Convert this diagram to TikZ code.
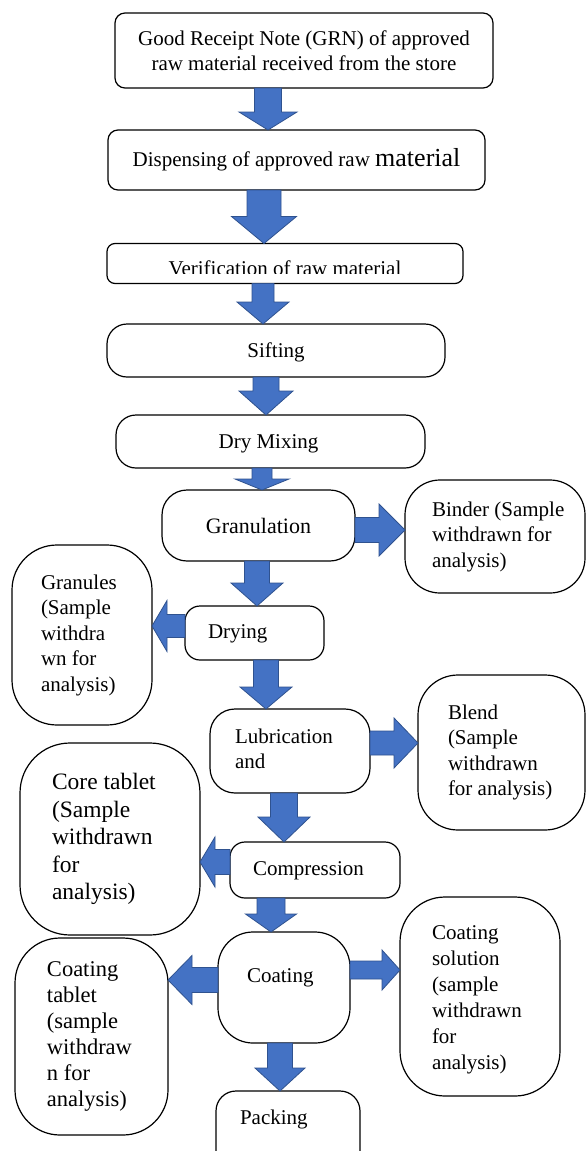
\documentclass[tikz,border=0pt]{standalone}
\usepackage{fontspec}
\setmainfont{Liberation Serif}
\usetikzlibrary{calc}
\definecolor{arrfill}{HTML}{4472C4}
\definecolor{arredge}{HTML}{2F528F}
\tikzset{
  pbox/.style={draw=black, line width=1.2pt, fill=white, rounded corners=#1,
    inner sep=0pt, outer sep=0pt, font=\fontsize{21}{25.5}\selectfont},
  blockarrow/.style={fill=arrfill, draw=arredge, line width=0.8pt, line join=miter},
  plaintext/.style={inner sep=0pt, outer sep=0pt, anchor=base, font=\fontsize{21}{25.5}\selectfont},
}
% left-aligned text block of a box: box width, left padding, lines
\newcommand\sidetext[3]{\makebox[#1pt][l]{\hspace*{#2pt}\begin{tabular}{@{}l@{}}#3\end{tabular}}}
\newcommand\sidetexttop[3]{\makebox[#1pt][l]{\hspace*{#2pt}\begin{tabular}[t]{@{}l@{}}#3\end{tabular}}}
\newcommand\arrdown[6]{%
  \path[blockarrow] let \p1=(#1.south), \p2=(#2.north) in
    (#3pt-#4pt,\y1) -- (#3pt+#4pt,\y1) -- (#3pt+#4pt,\y2+#6pt)
    -- (#3pt+#5pt,\y2+#6pt) -- (#3pt,\y2) -- (#3pt-#5pt,\y2+#6pt)
    -- (#3pt-#4pt,\y2+#6pt) -- cycle;}
\newcommand\arrright[6]{%
  \path[blockarrow] let \p1=(#1.east), \p2=(#2.west) in
    (\x1,-#3pt+#4pt) -- (\x2-#6pt,-#3pt+#4pt) -- (\x2-#6pt,-#3pt+#5pt)
    -- (\x2,-#3pt) -- (\x2-#6pt,-#3pt-#5pt) -- (\x2-#6pt,-#3pt-#4pt)
    -- (\x1,-#3pt-#4pt) -- cycle;}
\newcommand\arrleft[6]{%
  \path[blockarrow] let \p1=(#1.west), \p2=(#2.east) in
    (\x1,-#3pt+#4pt) -- (\x2+#6pt,-#3pt+#4pt) -- (\x2+#6pt,-#3pt+#5pt)
    -- (\x2,-#3pt) -- (\x2+#6pt,-#3pt-#5pt) -- (\x2+#6pt,-#3pt-#4pt)
    -- (\x1,-#3pt-#4pt) -- cycle;}
\begin{document}
\begin{tikzpicture}[x=1pt,y=-1pt]
\useasboundingbox (0,0) rectangle (587,1151);
\clip (0,0) rectangle (587,1151);
\fill[white] (0,0) rectangle (587,1151);

% main column
\node[pbox=10pt, minimum width=378pt, minimum height=75pt, align=center] (grn) at (304,50.5)
  {Good Receipt Note (GRN) of approved\\raw material received from the store};
\node[pbox=10pt, minimum width=377pt, minimum height=60pt, align=center] (disp) at (296.5,160)
  {Dispensing of approved raw {\fontsize{26}{30}\selectfont material}};
\node[pbox=8pt, minimum width=356pt, minimum height=40pt] (verif) at (285,263.5) {};
\begin{scope}
  \clip (108,245) rectangle (462,273);
  \node[plaintext] (veriftext) at (285,275) {Verification of raw material};
\end{scope}
\node[pbox=20pt, minimum width=338pt, minimum height=53pt] (sift) at (276,350.5) {};
\begin{scope}
  \clip (108,325) rectangle (444,361);
  \node[plaintext] (sifttext) at (276,357) {Sifting};
\end{scope}
\node[pbox=20pt, minimum width=309pt, minimum height=53pt] (dry) at (270.5,441.5) {};
\begin{scope}
  \clip (117,416) rectangle (424,455);
  \node[plaintext] (drytext) at (268.5,448) {Dry Mixing};
\end{scope}
\node[pbox=25pt, minimum width=193pt, minimum height=71pt, font=\fontsize{22}{26}\selectfont] (gran) at (258.5,525.5) {Granulation};
\node[pbox=15pt, minimum height=54pt] (drying) at (254.5,633)
  {\sidetext{139}{23}{Drying}};
\node[pbox=25pt, minimum height=84pt] (lub) at (290,751)
  {\sidetext{160}{25}{Lubrication\\and}};
\node[pbox=15pt, minimum height=56pt] (comp) at (315,870)
  {\sidetext{170}{23}{Compression}};
\node[pbox=35pt, minimum height=111pt, text depth=27pt] (coat) at (284,987.5)
  {\sidetext{132}{29}{Coating}};
\node[pbox=20pt, minimum height=90pt, text depth=40pt] (pack) at (288,1136)
  {\sidetext{144}{24}{Packing}};

% side boxes
\node[pbox=35pt, minimum height=113pt] (binder) at (495,536.5)
  {\sidetext{180}{27}{Binder (Sample\\withdrawn for\\analysis)}};
\node[pbox=45pt, minimum height=180pt] (granules) at (82,635)
  {\sidetext{140}{29}{Granules\\(Sample\\withdra\\wn for\\analysis)}};
\node[pbox=40pt, minimum height=155pt] (blend) at (501.5,752.5)
  {\sidetext{167}{30}{Blend\\(Sample\\withdrawn\\for analysis)}};
\node[pbox=50pt, minimum height=192pt, font=\fontsize{23.5}{27.5}\selectfont] (core) at (110,839)
  {\sidetext{180}{32}{Core tablet\\(Sample\\withdrawn\\for\\analysis)}};
\node[pbox=45pt, minimum height=197pt, font=\fontsize{22.5}{26}\selectfont] (coattab) at (91.5,1036.5)
  {\sidetext{153}{32}{Coating\\tablet\\(sample\\withdraw\\n for\\analysis)}};
\node[pbox=45pt, minimum height=199pt, font=\fontsize{21}{26}\selectfont, text depth=131.8pt] (coatsol) at (480,996.5)
  {\sidetexttop{160}{32}{Coating\\solution\\(sample\\withdrawn\\for\\analysis)}};

% block arrows
\arrdown{grn}{disp}{268}{13.5}{29}{18}
\arrdown{disp}{verif}{264}{17}{32.5}{27}
\arrdown{verif}{sift}{263}{11}{26}{22}
\arrdown{sift}{dry}{266}{13}{27}{24}
\arrdown{dry}{gran}{262}{10}{27}{11}
\arrright{gran}{binder}{530}{12.5}{26}{26}
\arrdown{gran}{drying}{257}{12.5}{26}{23}
\arrleft{drying}{granules}{626}{11.5}{25.5}{15}
\arrdown{drying}{lub}{266}{12.5}{26}{22}
\arrright{lub}{blend}{743}{12}{25}{24}
\arrdown{lub}{comp}{284}{13.5}{26}{25}
\arrleft{comp}{core}{862}{12.5}{25}{15}
\arrdown{comp}{coat}{271}{14}{25.5}{18}
\arrleft{coat}{coattab}{980}{12.5}{24.5}{24}
\arrright{coat}{coatsol}{970}{9}{20}{18}
\arrdown{coat}{pack}{280}{12.5}{25}{23}
\end{tikzpicture}
\end{document}
